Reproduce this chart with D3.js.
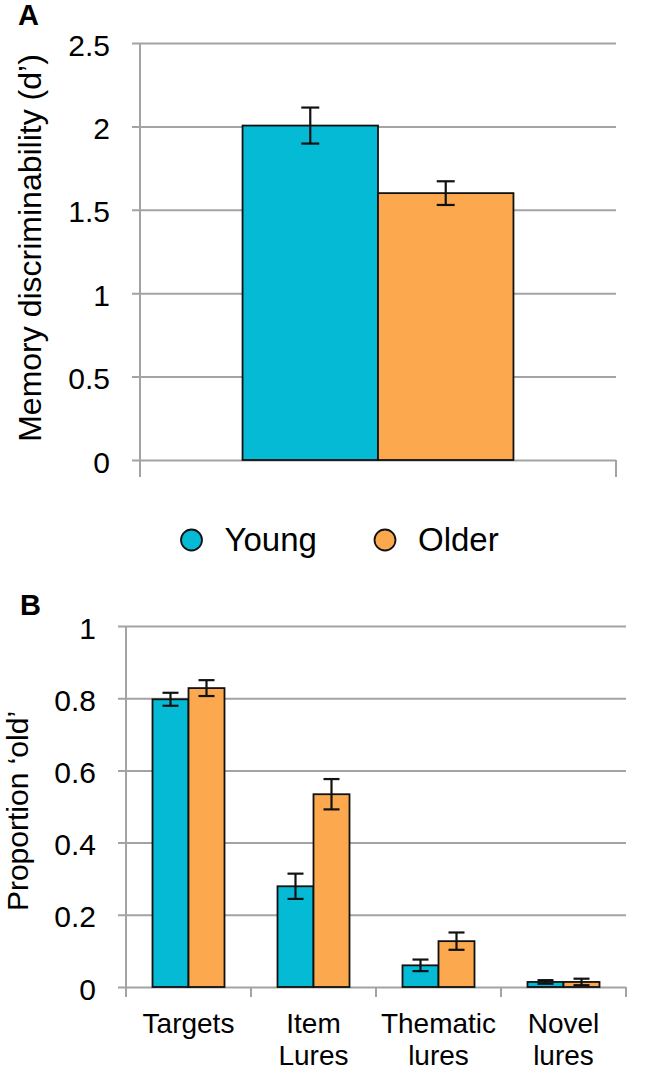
<!DOCTYPE html>
<html>
<head>
<meta charset="utf-8">
<script src="https://cdn.jsdelivr.net/npm/d3@7"></script>
<style>
  html, body { margin: 0; padding: 0; background: #fff; }
  svg { display: block; font-family: "Liberation Sans", Arial, sans-serif; }
</style>
</head>
<body>
<svg id="chart" width="656" height="1072"></svg>
<script>
// ---------- Data ----------
const groups = ["Young", "Older"];
const groupColors = ["#05BAD4", "#FCA84E"];

// Panel A: memory discriminability (d')
const dprimeCategory = ["d'"];
const dprimeValues = [2.005, 1.60];
const dprimeErrors = [0.108, 0.071];
const dprimeTicks = [0, 0.5, 1, 1.5, 2, 2.5];
const dprimeTickLabels = ["0", "0.5", "1", "1.5", "2", "2.5"];

// Panel B: proportion 'old'
const itemCategories = ["Targets", "Item Lures", "Thematic lures", "Novel lures"];
const categoryLabelLines = [["Targets"], ["Item", "Lures"], ["Thematic", "lures"], ["Novel", "lures"]];
const youngOld = [0.797, 0.279, 0.060, 0.014];
const olderOld = [0.828, 0.534, 0.127, 0.014];
const youngErr = [0.018, 0.035, 0.016, 0.005];
const olderErr = [0.022, 0.042, 0.024, 0.009];
const oldTicks = [0, 0.2, 0.4, 0.6, 0.8, 1];
const oldTickLabels = ["0", "0.2", "0.4", "0.6", "0.8", "1"];

// ---------- Drawing ----------
const svg = d3.select("#chart");
const gridColor = "#a3a3a3";

// ===== Panel A =====
const A = { left: 140, right: 616, top: 43, bottom: 460 };
const yA = d3.scaleLinear().domain([0, 2.5]).range([A.bottom, A.top]);
const xA = d3.scaleBand().domain(dprimeCategory).range([A.left, A.right]).paddingInner(0).paddingOuter(0);
const xAsub = d3.scaleBand().domain(groups).range([0, xA.bandwidth()]).paddingInner(0).paddingOuter(0.757);

const gA = svg.append("g");
const yAxisA = d3.axisLeft(yA).tickValues(dprimeTicks)
  .tickFormat((d, i) => dprimeTickLabels[i])
  .tickSize(-(A.right - A.left)).tickPadding(30);
const axA = gA.append("g").attr("transform", `translate(${A.left},0)`).call(yAxisA);
axA.select(".domain").remove();
axA.selectAll(".tick line").attr("x1", -8).attr("stroke", gridColor).attr("stroke-width", 2);
axA.selectAll(".tick text").attr("font-size", 30).attr("fill", "#000").attr("dy", "0.4em");
gA.append("line").attr("x1", A.left).attr("x2", A.left).attr("y1", A.top).attr("y2", A.bottom + 17)
  .attr("stroke", gridColor).attr("stroke-width", 2);
gA.append("line").attr("x1", A.right).attr("x2", A.right).attr("y1", A.bottom).attr("y2", A.bottom + 17)
  .attr("stroke", gridColor).attr("stroke-width", 2);

const barsA = gA.append("g");
groups.forEach((g, i) => {
  const x = xA(dprimeCategory[0]) + xAsub(g);
  barsA.append("rect")
    .attr("x", x).attr("y", yA(dprimeValues[i]))
    .attr("width", xAsub.bandwidth()).attr("height", yA(0) - yA(dprimeValues[i]))
    .attr("fill", groupColors[i]).attr("stroke", "#111").attr("stroke-width", 1.8);
});
groups.forEach((g, i) => {
  const cx = xA(dprimeCategory[0]) + xAsub(g) + xAsub.bandwidth() / 2;
  const hi = yA(dprimeValues[i] + dprimeErrors[i]);
  const lo = yA(dprimeValues[i] - dprimeErrors[i]);
  const eg = barsA.append("g").attr("stroke", "#111").attr("stroke-width", 2.2);
  eg.append("line").attr("x1", cx).attr("x2", cx).attr("y1", hi).attr("y2", lo);
  eg.append("line").attr("x1", cx - 9).attr("x2", cx + 9).attr("y1", hi).attr("y2", hi);
  eg.append("line").attr("x1", cx - 9).attr("x2", cx + 9).attr("y1", lo).attr("y2", lo);
});

// y label A
svg.append("text")
  .attr("transform", `translate(41,248) rotate(-90)`)
  .attr("text-anchor", "middle").attr("font-size", 32).attr("fill", "#000")
  .text("Memory discriminability (d\u2019)");

svg.append("text").attr("x", 18).attr("y", 25).attr("font-size", 29).attr("font-weight", "bold").text("A");

// legend
const legend = svg.append("g");
const legendX = [191.5, 385];
groups.forEach((g, i) => {
  legend.append("circle").attr("cx", legendX[i]).attr("cy", 540).attr("r", 10.5)
    .attr("fill", groupColors[i]).attr("stroke", "#111").attr("stroke-width", 1.8);
  legend.append("text").attr("x", legendX[i] + 33).attr("y", 551)
    .attr("font-size", 33).attr("fill", "#000").text(g);
});

// ===== Panel B =====
const B = { left: 126, right: 626, top: 626, bottom: 987 };
const yB = d3.scaleLinear().domain([0, 1]).range([B.bottom, B.top]);
const xB = d3.scaleBand().domain(itemCategories).range([B.left, B.right]).paddingInner(0).paddingOuter(0);
const xBsub = d3.scaleBand().domain(groups).range([0, xB.bandwidth()]).paddingInner(0).paddingOuter(0.736);

const gB = svg.append("g");
const yAxisB = d3.axisLeft(yB).tickValues(oldTicks)
  .tickFormat((d, i) => oldTickLabels[i])
  .tickSize(-(B.right - B.left)).tickPadding(30);
const axB = gB.append("g").attr("transform", `translate(${B.left},0)`).call(yAxisB);
axB.select(".domain").remove();
axB.selectAll(".tick line").attr("x1", -8).attr("stroke", gridColor).attr("stroke-width", 2);
axB.selectAll(".tick text").attr("font-size", 30).attr("fill", "#000").attr("dy", "0.4em");
gB.append("line").attr("x1", B.left).attr("x2", B.left).attr("y1", B.top).attr("y2", B.bottom + 10)
  .attr("stroke", gridColor).attr("stroke-width", 2);

itemCategories.forEach((c) => {
  const xr = xB(c) + xB.bandwidth();
  gB.append("line").attr("x1", xr).attr("x2", xr).attr("y1", B.bottom).attr("y2", B.bottom + 10)
    .attr("stroke", gridColor).attr("stroke-width", 2);
});

const seriesB = [youngOld, olderOld];
const seriesErrB = [youngErr, olderErr];
const barsB = gB.append("g");
groups.forEach((g, gi) => {
  itemCategories.forEach((c, ci) => {
    const v = seriesB[gi][ci];
    barsB.append("rect")
      .attr("x", xB(c) + xBsub(g)).attr("y", yB(v))
      .attr("width", xBsub.bandwidth()).attr("height", yB(0) - yB(v))
      .attr("fill", groupColors[gi]).attr("stroke", "#111").attr("stroke-width", 1.8);
  });
});
groups.forEach((g, gi) => {
  itemCategories.forEach((c, ci) => {
    const v = seriesB[gi][ci], e = seriesErrB[gi][ci];
    const cx = xB(c) + xBsub(g) + xBsub.bandwidth() / 2;
    const hi = yB(v + e), lo = yB(v - e);
    const eg = barsB.append("g").attr("stroke", "#111").attr("stroke-width", 2.2);
    eg.append("line").attr("x1", cx).attr("x2", cx).attr("y1", hi).attr("y2", lo);
    eg.append("line").attr("x1", cx - 8).attr("x2", cx + 8).attr("y1", hi).attr("y2", hi);
    eg.append("line").attr("x1", cx - 8).attr("x2", cx + 8).attr("y1", lo).attr("y2", lo);
  });
});

itemCategories.forEach((c, ci) => {
  const t = gB.append("text").attr("text-anchor", "middle").attr("font-size", 28).attr("fill", "#000");
  categoryLabelLines[ci].forEach((line, li) => {
    t.append("tspan").attr("x", xB(c) + xB.bandwidth() / 2).attr("y", 1033 + li * 32).text(line);
  });
});

svg.append("text")
  .attr("transform", `translate(28,811) rotate(-90)`)
  .attr("text-anchor", "middle").attr("font-size", 30).attr("fill", "#000")
  .text("Proportion \u2018old\u2019");

svg.append("text").attr("x", 20).attr("y", 615).attr("font-size", 29).attr("font-weight", "bold").text("B");
</script>
</body>
</html>
